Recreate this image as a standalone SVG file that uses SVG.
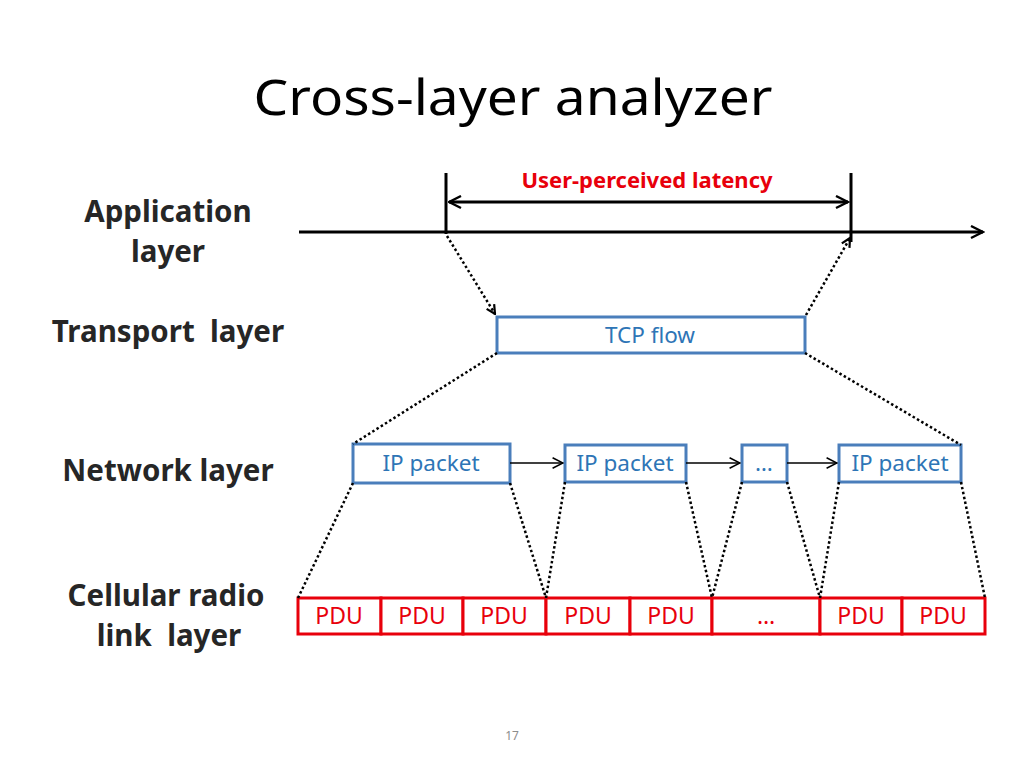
<svg xmlns="http://www.w3.org/2000/svg" width="1024" height="768" viewBox="0 0 1024 768">
<style>
.lbl{font-family:"Noto Sans","Open Sans",sans-serif;font-weight:bold;font-size:29.5px;fill:#262626;text-anchor:middle}
.blue{fill:#fff;stroke:#4a7ebb;stroke-width:3}
.btxt{font-family:"Noto Sans","Open Sans",sans-serif;font-size:22.5px;fill:#2e75b6;text-anchor:middle}
.red{fill:#fff;stroke:#e8000b;stroke-width:3}
.rtxt{font-family:"Noto Sans","Open Sans",sans-serif;font-size:23px;fill:#e8000b;text-anchor:middle}
.dot{stroke:#000;stroke-width:2.5;stroke-dasharray:2.5 2.5;fill:none}
.solid{stroke:#000;stroke-width:3;fill:none}
.thin{stroke:#000;stroke-width:1.3;fill:none}
</style>
<defs>
<marker id="ah" viewBox="0 0 10 10" refX="9" refY="5" markerWidth="5" markerHeight="5" orient="auto-start-reverse" markerUnits="strokeWidth"><path d="M1,1 L9,5 L1,9" fill="none" stroke="#000" stroke-width="1.6"/></marker>
<marker id="ahs" viewBox="0 0 10 10" refX="9" refY="5" markerWidth="10" markerHeight="10" orient="auto" markerUnits="strokeWidth"><path d="M1,1 L9,5 L1,9" fill="none" stroke="#000" stroke-width="1.2"/></marker>
<marker id="ahd" viewBox="0 0 10 10" refX="9" refY="5" markerWidth="11" markerHeight="11" orient="auto" markerUnits="userSpaceOnUse"><path d="M1,1 L9,5 L1,9" fill="none" stroke="#000" stroke-width="2"/></marker>
</defs>
<rect width="1024" height="768" fill="#fff"/>
<text x="513" y="115" font-family="'Noto Sans','Open Sans',sans-serif" font-size="50" fill="#000" text-anchor="middle" textLength="519" lengthAdjust="spacingAndGlyphs">Cross-layer analyzer</text>

<g id="layer-labels">
<text class="lbl" x="168" y="222">Application</text>
<text class="lbl" x="168" y="262">layer</text>
<text class="lbl" x="168" y="342" xml:space="preserve">Transport  layer</text>
<text class="lbl" x="168" y="481">Network layer</text>
<text class="lbl" x="166" y="606">Cellular radio</text>
<text class="lbl" x="169" y="646" xml:space="preserve">link  layer</text>
</g>

<g id="timeline">
<line class="solid" x1="299" y1="232" x2="983" y2="232" marker-end="url(#ah)"/>
<line class="solid" x1="446" y1="173" x2="446" y2="234"/>
<line class="solid" x1="851" y1="173" x2="851" y2="242"/>
<line class="solid" x1="449" y1="202" x2="848" y2="202" marker-start="url(#ah)" marker-end="url(#ah)"/>
<text x="647" y="188" font-family="'Noto Sans','Open Sans',sans-serif" font-weight="bold" font-size="22" fill="#e8000b" text-anchor="middle">User-perceived latency</text>
</g>

<g id="tcp-flow">
<rect class="blue" x="497" y="317" width="308" height="36"/>
<text class="btxt" x="650" y="343">TCP flow</text>
</g>

<g id="ip1"><rect class="blue" x="353" y="444" width="157" height="39"/><text class="btxt" x="431" y="471">IP packet</text></g>
<g id="ip2"><rect class="blue" x="565" y="445" width="121" height="37"/><text class="btxt" x="625" y="471">IP packet</text></g>
<g id="ip3"><rect class="blue" x="742" y="445" width="45" height="37"/><text class="btxt" x="764" y="471">…</text></g>
<g id="ip4"><rect class="blue" x="839" y="445" width="122" height="37"/><text class="btxt" x="900" y="471">IP packet</text></g>

<g id="pdus">
<rect class="red" x="298" y="598" width="83" height="36"/><text class="rtxt" x="339" y="624">PDU</text>
<rect class="red" x="381" y="598" width="82" height="36"/><text class="rtxt" x="422" y="624">PDU</text>
<rect class="red" x="463" y="598" width="83" height="36"/><text class="rtxt" x="504" y="624">PDU</text>
<rect class="red" x="546" y="598" width="84" height="36"/><text class="rtxt" x="588" y="624">PDU</text>
<rect class="red" x="630" y="598" width="82" height="36"/><text class="rtxt" x="671" y="624">PDU</text>
<rect class="red" x="712" y="598" width="108" height="36"/><text class="rtxt" x="766" y="624">…</text>
<rect class="red" x="820" y="598" width="82" height="36"/><text class="rtxt" x="861" y="624">PDU</text>
<rect class="red" x="902" y="598" width="83" height="36"/><text class="rtxt" x="943" y="624">PDU</text>
</g>

<g id="connectors">
<line class="dot" x1="447" y1="236" x2="495" y2="314" marker-end="url(#ahd)"/>
<line class="dot" x1="806" y1="315" x2="850" y2="238" marker-end="url(#ahd)"/>
<line class="dot" x1="497" y1="353" x2="353" y2="444"/>
<line class="dot" x1="805" y1="353" x2="961" y2="445"/>
<line class="thin" x1="510" y1="463" x2="563" y2="463" marker-end="url(#ahs)"/>
<line class="thin" x1="686" y1="463" x2="740" y2="463" marker-end="url(#ahs)"/>
<line class="thin" x1="787" y1="463" x2="837" y2="463" marker-end="url(#ahs)"/>
<line class="dot" x1="353" y1="483" x2="298" y2="598"/>
<line class="dot" x1="510" y1="483" x2="546" y2="598"/>
<line class="dot" x1="565" y1="482" x2="546" y2="598"/>
<line class="dot" x1="686" y1="482" x2="712" y2="598"/>
<line class="dot" x1="742" y1="482" x2="712" y2="598"/>
<line class="dot" x1="787" y1="482" x2="820" y2="598"/>
<line class="dot" x1="839" y1="482" x2="820" y2="598"/>
<line class="dot" x1="961" y1="482" x2="985" y2="598"/>
</g>

<text x="512" y="740" font-family="'Noto Sans','Open Sans',sans-serif" font-size="12" fill="#8c8c8c" text-anchor="middle">17</text>
</svg>
